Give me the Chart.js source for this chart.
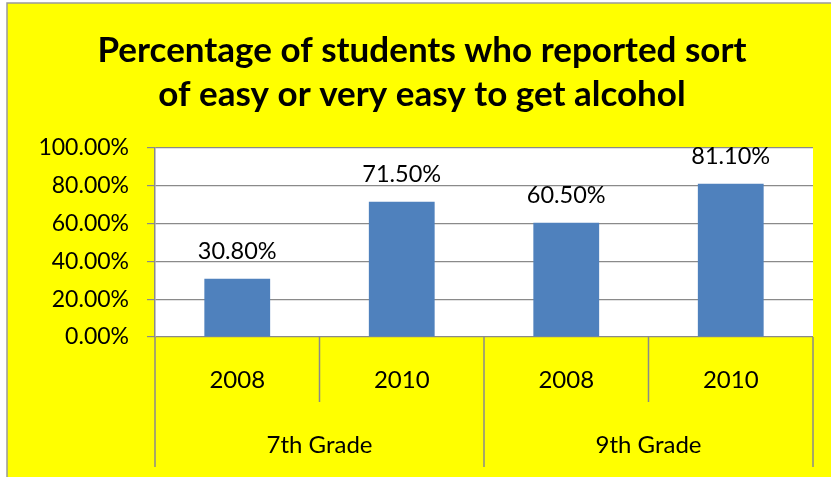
<!DOCTYPE html>
<html><head><meta charset="utf-8">
<script src="https://cdn.jsdelivr.net/npm/chart.js@4/dist/chart.umd.min.js"></script>
<style>html,body{margin:0;padding:0;background:#fff;}#wrap{width:831px;height:477px;position:relative;}</style>
</head><body><div id="wrap"><canvas id="c" width="831" height="477"></canvas></div>
<script>
const years = ["2008", "2010", "2008", "2010"];
const groups = ["7th Grade", "9th Grade"];
const groupSize = [2, 2];
const values = [0.308, 0.715, 0.605, 0.811];
const yTicks = [0, 0.2, 0.4, 0.6, 0.8, 1.0];
const titleLines = ["Percentage of students who reported sort", "of easy or very easy to get alcohol"];

const FONT = "Lato, 'Open Sans', sans-serif";
const GRID = "#8a8a8a";

const bgPlugin = {
  id: "bg",
  beforeDraw(chart) {
    const ctx = chart.ctx;
    ctx.save();
    ctx.fillStyle = "#fff";
    ctx.fillRect(0, 0, chart.width, chart.height);
    ctx.fillStyle = "#FFFF00";
    ctx.fillRect(7, 3, chart.width - 7, chart.height - 3);
    ctx.strokeStyle = "#9a9a9a";
    ctx.lineWidth = 1.5;
    ctx.beginPath();
    ctx.moveTo(7, chart.height); ctx.lineTo(7, 3); ctx.lineTo(chart.width, 3);
    ctx.stroke();
    const a = chart.chartArea;
    ctx.fillStyle = "#fff";
    ctx.fillRect(a.left, a.top, a.right - a.left, a.bottom - a.top);
    ctx.restore();
  }
};

const labelPlugin = {
  id: "vals",
  afterDatasetsDraw(chart) {
    const ctx = chart.ctx;
    const meta = chart.getDatasetMeta(0);
    ctx.save();
    ctx.font = "23.5px " + FONT;
    ctx.fillStyle = "#000";
    ctx.textAlign = "center";
    ctx.textBaseline = "middle";
    meta.data.forEach((el, i) => {
      ctx.fillText((values[i] * 100).toFixed(2) + "%", el.x, el.y - 27);
    });
    ctx.restore();
  }
};

const axisPlugin = {
  id: "multiAxis",
  afterDraw(chart) {
    const ctx = chart.ctx;
    const xs = chart.scales.x;
    const a = chart.chartArea;
    const half = (xs.getPixelForValue(1) - xs.getPixelForValue(0)) / 2;
    const row1 = a.bottom + 65, row2 = a.bottom + 130;
    ctx.save();
    ctx.strokeStyle = GRID;
    ctx.lineWidth = 1.5;
    let groupStarts = [0];
    let acc = 0;
    groupSize.forEach(s => { acc += s; groupStarts.push(acc); });
    for (let i = 0; i <= years.length; i++) {
      const x = (i < years.length ? xs.getPixelForValue(i) - half : xs.getPixelForValue(years.length - 1) + half);
      const isGroup = groupStarts.includes(i);
      ctx.beginPath();
      ctx.moveTo(x, a.bottom);
      ctx.lineTo(x, isGroup ? row2 : row1);
      ctx.stroke();
    }
    ctx.fillStyle = "#000";
    ctx.textAlign = "center";
    ctx.textBaseline = "middle";
    ctx.font = "24px " + FONT;
    years.forEach((y, i) => ctx.fillText(y, xs.getPixelForValue(i), a.bottom + 43));
    groups.forEach((g, gi) => {
      const s = groupStarts[gi], e = groupStarts[gi + 1] - 1;
      const cx = (xs.getPixelForValue(s) + xs.getPixelForValue(e)) / 2;
      ctx.fillText(g, cx, a.bottom + 108);
    });
    ctx.restore();
  }
};

new Chart(document.getElementById("c"), {
  type: "bar",
  data: {
    labels: years,
    datasets: [{
      data: values,
      backgroundColor: "#4F81BD",
      barPercentage: 0.4,
      categoryPercentage: 1.0
    }]
  },
  options: {
    responsive: false,
    animation: false,
    devicePixelRatio: 1,
    layout: { padding: { left: 31, right: 18, top: 0, bottom: 0 } },
    plugins: {
      legend: { display: false },
      tooltip: { enabled: false },
      title: {
        display: true,
        text: titleLines,
        color: "#000",
        font: { family: FONT, size: 35, weight: "bold", lineHeight: 1.257 },
        padding: { top: 29, bottom: 31 }
      }
    },
    scales: {
      x: {
        ticks: { display: false },
        grid: { display: false },
        border: { display: false },
        afterFit(s) { s.height = 140; }
      },
      y: {
        min: 0, max: 1,
        afterBuildTicks(s) { s.ticks = yTicks.map(v => ({ value: v })); },
        ticks: {
          color: "#000",
          font: { family: FONT, size: 23 },
          padding: 18,
          callback: v => (v * 100).toFixed(2) + "%"
        },
        grid: { color: GRID, lineWidth: 1.2, tickLength: 8 },
        border: { display: true, color: GRID, width: 1.5 },
        afterFit(s) { s.width = 124; }
      }
    }
  },
  plugins: [bgPlugin, labelPlugin, axisPlugin]
});
</script></body></html>
